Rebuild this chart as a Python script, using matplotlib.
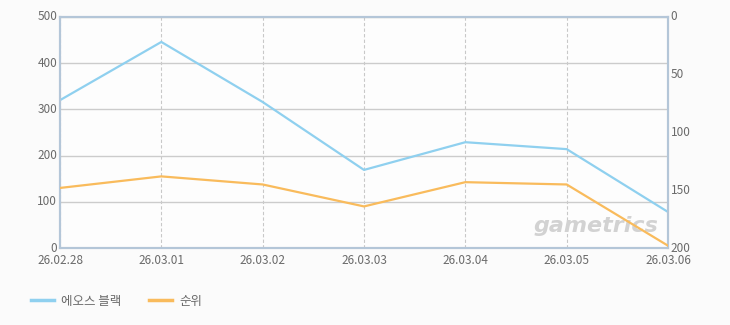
import matplotlib
matplotlib.use('Agg')
import matplotlib.pyplot as plt

plt.rcParams['font.family'] = ['Noto Sans CJK KR', 'DejaVu Sans']

dates = ['26.02.28', '26.03.01', '26.03.02', '26.03.03', '26.03.04', '26.03.05', '26.03.06']
players = [320, 446, 316, 169, 229, 214, 78]
rank = [148, 138, 145, 164, 143, 145, 198]

blue = '#8fd0ef'
orange = '#f9bb5c'
spine_c = '#b4c6d8'
txt_c = '#6a6a6a'

fig = plt.figure(figsize=(7.3, 3.25), dpi=100, facecolor='#fbfbfb')
ax = fig.add_axes([60/730, 1 - 248/325, 608/730, 231/325])
ax.set_facecolor('#fdfdfd')
x = list(range(len(dates)))

ax.plot(x, players, color=blue, lw=1.6, zorder=3)
ax.set_ylim(0, 500)
ax.set_xlim(0, len(dates) - 1)
ax.set_yticks([0, 100, 200, 300, 400, 500])
ax.set_xticks(x)
ax.set_xticklabels(dates)
ax.grid(axis='y', color='#cccccc', lw=1, ls='-')
ax.grid(axis='x', color='#c8c8c8', lw=0.8, ls=(0, (3, 2)))
ax.set_axisbelow(True)
for s in ax.spines.values():
    s.set_color(spine_c)
    s.set_linewidth(1.5)
ax.tick_params(length=0, colors=txt_c, labelsize=8.5, pad=2)
ax.tick_params(axis='x', pad=4)

ax2 = ax.twinx()
ax2.plot(x, rank, color=orange, lw=1.6, zorder=3)
ax2.set_ylim(200, 0)
ax2.set_yticks([0, 50, 100, 150, 200])
ax2.tick_params(length=0, colors=txt_c, labelsize=8.5, pad=2)
for s in ax2.spines.values():
    s.set_color(spine_c)
    s.set_linewidth(1.5)

for lab in ax.get_yticklabels() + ax2.get_yticklabels():
    lab.set_verticalalignment('center')

ax.text(0.985, 0.05, 'gametrics', transform=ax.transAxes, ha='right', va='bottom',
        fontsize=16, fontstyle='italic', fontweight='bold', color='#d2d2d2',
        family='DejaVu Sans', zorder=1)

fig.legend(handles=[plt.Line2D([], [], color=blue, lw=2.5), plt.Line2D([], [], color=orange, lw=2.5)],
           labels=['에오스 블랙', '순위'], loc='lower left', bbox_to_anchor=(20/730, 6/325),
           ncol=2, frameon=False, fontsize=9, labelcolor=txt_c, handlelength=1.8,
           handletextpad=0.6, columnspacing=2.2)

fig.savefig('out.png', dpi=100, facecolor=fig.get_facecolor())
